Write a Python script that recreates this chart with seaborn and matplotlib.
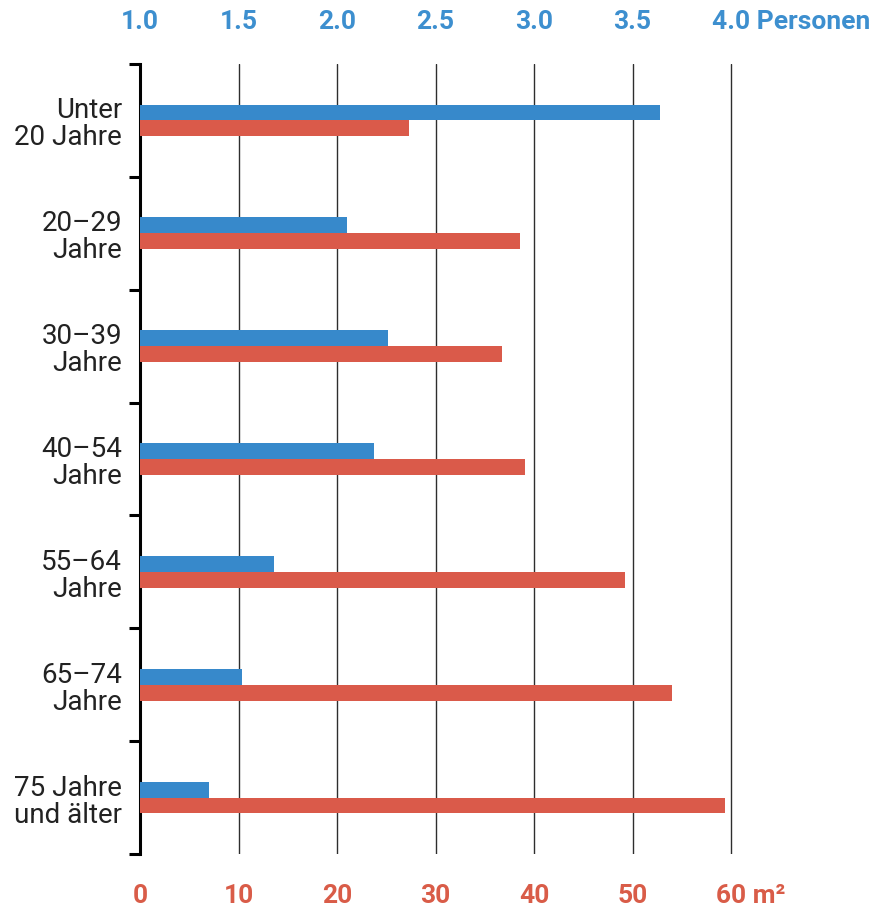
import matplotlib
matplotlib.use('Agg')
import matplotlib.pyplot as plt
import matplotlib.transforms as mtransforms
import seaborn as sns
import pandas as pd
import numpy as np

# Data
age_groups = ['Unter\n20 Jahre', '20–29\nJahre', '30–39\nJahre', '40–54\nJahre',
              '55–64\nJahre', '65–74\nJahre', '75 Jahre\nund älter']
persons = [3.64, 2.05, 2.26, 2.19, 1.68, 1.52, 1.35]       # Personen je Haushalt
area_m2 = [27.3, 38.6, 36.7, 39.1, 49.2, 54.0, 59.4]       # Wohnfläche je Person

m2_ticks = [0, 10, 20, 30, 40, 50, 60]
m2_labels = ['0', '10', '20', '30', '40', '50', '60 m²']
person_ticks = [1.0, 1.5, 2.0, 2.5, 3.0, 3.5, 4.0]
person_labels = ['1.0', '1.5', '2.0', '2.5', '3.0', '3.5', '4.0 Personen']

BLUE = '#3789CB'
RED = '#DA5A4A'
BLUE_TXT = '#3D8FCF'
RED_TXT = '#D95C48'


# the two scales share the grid: 1.0 Personen = 0 m2, 4.0 Personen = 60 m2
def p_to_m2(p):
    return (np.asarray(p) - 1.0) * 20.0


def m2_to_p(m):
    return np.asarray(m) / 20.0 + 1.0


df = pd.concat([
    pd.DataFrame({'group': age_groups, 'value': p_to_m2(persons), 'series': 'Personen'}),
    pd.DataFrame({'group': age_groups, 'value': area_m2, 'series': 'Wohnfläche'}),
])

sns.set_style('white')
plt.rcParams['font.family'] = ['Roboto', 'DejaVu Sans']

fig = plt.figure(figsize=(8.84, 9.12), dpi=100)
ax = fig.add_axes([140 / 884, 1 - 855 / 912, (735 - 140) / 884, (855 - 65) / 912])

sns.barplot(data=df, y='group', x='value', hue='series', orient='h',
            palette=[BLUE, RED], width=0.28, gap=0, saturation=1,
            linewidth=0, legend=False, ax=ax, zorder=3)

ax.set_xlim(0, 60.4)
ax.set_ylim(6.5, -0.5)
ax.set_xlabel('')
ax.set_ylabel('')

# vertical grid
ax.grid(axis='x', color='#2e2e2e', lw=1.0)
ax.grid(axis='y', visible=False)
ax.set_axisbelow(True)

for side in ['top', 'right', 'bottom']:
    ax.spines[side].set_visible(False)
ax.spines['left'].set_linewidth(2.2)
ax.spines['left'].set_color('black')

# category labels and boundary ticks on the left
ax.set_yticks(np.arange(-0.5, 7.0, 1.0), minor=True)
ax.tick_params(axis='y', which='major', left=True, length=0, pad=13,
               labelsize=20, labelcolor='#222222')
ax.tick_params(axis='y', which='minor', left=True, length=8, width=2.2,
               color='black', direction='out')
for lab in ax.get_yticklabels():
    lab.set_linespacing(1.0)
    lab.set_ha('right')

# bottom axis: m2
ax.set_xticks(m2_ticks)
ax.set_xticklabels(m2_labels, fontsize=19, fontweight='bold', color=RED_TXT)
ax.tick_params(axis='x', length=0, pad=21)
last = ax.get_xticklabels()[-1]
last.set_ha('left')
last.set_transform(last.get_transform() + mtransforms.ScaledTranslation(-0.15, 0, fig.dpi_scale_trans))

# top axis: Personen
top = ax.secondary_xaxis('top', functions=(m2_to_p, p_to_m2))
top.set_xticks(person_ticks)
top.set_xticklabels(person_labels, fontsize=19, fontweight='bold', color=BLUE_TXT)
top.tick_params(axis='x', length=0, pad=22)
top.spines['top'].set_visible(False)
last = top.get_xticklabels()[-1]
last.set_ha('left')
last.set_transform(last.get_transform() + mtransforms.ScaledTranslation(-0.19, 0, fig.dpi_scale_trans))

plt.savefig('out.png', dpi=100)
